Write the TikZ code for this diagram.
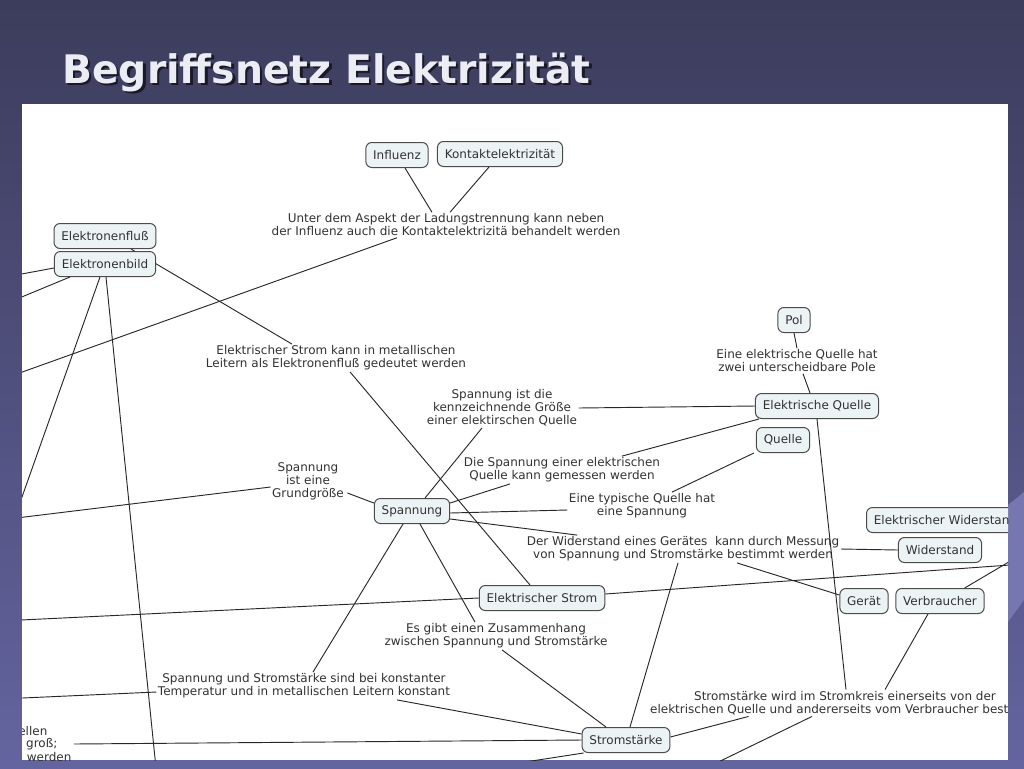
\documentclass[tikz,border=0pt]{standalone}
\usepackage{fontspec}
\setmainfont{DejaVu Sans}
\usetikzlibrary{calc}

\definecolor{slidetop}{RGB}{60,60,92}
\definecolor{slidebot}{RGB}{100,100,160}
\definecolor{slidelight}{RGB}{118,118,176}
\definecolor{conceptfill}{RGB}{236,243,244}
\definecolor{conceptline}{RGB}{75,75,75}
\definecolor{maptext}{RGB}{50,50,50}
\definecolor{linkline}{RGB}{40,40,40}
\definecolor{titletext}{RGB}{236,236,244}
\definecolor{titleshade}{RGB}{25,25,40}
\newcommand{\mapfont}{\fontsize{9}{9.75}\selectfont}
\newcommand{\titlesize}{\fontsize{29.5}{34}\selectfont}

\begin{document}
\begin{tikzpicture}[x=0.75pt,y=0.75pt,yscale=-1,xscale=1,
    concept/.style={draw=conceptline,fill=conceptfill,rounded corners=4.5pt,line width=0.75pt,inner xsep=5.5pt,minimum height=18.75pt,text=maptext,font=\mapfont},
    linkphrase/.style={align=center,inner sep=1pt,text=maptext,font=\mapfont},
    link/.style={draw=linkline,line width=0.7pt}]
	%uncomment if require: \path (0,768); %slide of 1024 x 768
	\useasboundingbox (0,0) rectangle (1024,768);
	
	%Shape: Slide background
	\shade[top color=slidetop,bottom color=slidebot] (0,0) rectangle (1024,768);
	\fill[slidelight] (1008,505) -- (1024,492) -- (1024,600) -- (1008,622) -- cycle;
	%Shape: White panel
	\fill[white] (22,104) rectangle (1008,760);
	
	% Text Node (title)
	\node[anchor=base west,inner sep=0pt,font=\titlesize\bfseries,text=titleshade] (titleshadow) at (64.5,85.5) {Begriffsnetz Elektrizität};
	\node[anchor=base west,inner sep=0pt,font=\titlesize\bfseries,text=titletext] (title) at (62,83) {Begriffsnetz Elektrizität};
	
	\begin{scope}
	\clip (22,104) rectangle (1008,760);
	
	%Free ends outside the panel
	\coordinate (offA) at (0,380);
	\coordinate (offB) at (0,278);
	\coordinate (offC) at (0,306);
	\coordinate (offD) at (0,559);
	\coordinate (offE) at (156,768);
	\coordinate (offF) at (0,520);
	\coordinate (offG) at (0,621);
	\coordinate (offH) at (1024,564);
	\coordinate (offI) at (1024,553);
	\coordinate (offJ) at (706,768);
	\coordinate (offK) at (486,768);
	\coordinate (offL) at (0,699);
	
	% Concept Nodes
	\node[concept] (influenz) at (397,155) {Influenz};
	\node[concept] (kontakt) at (500,154) {Kontaktelektrizität};
	\node[concept] (fluss) at (105,236) {Elektronenfluß};
	\node[concept] (pol) at (794,320) {Pol};
	\node[concept] (equelle) at (817,406) {Elektrische Quelle};
	\node[concept] (quelle) at (783,440) {Quelle};
	\node[concept] (spannung) at (412,511) {Spannung};
	\node[concept,anchor=west] (ewid) at (866,520) {Elektrischer Widerstand};
	\node[concept] (widerstand) at (940,550) {Widerstand};
	\node[concept] (geraet) at (864,601) {Gerät};
	\node[concept] (verbraucher) at (940,601) {Verbraucher};
	\node[concept] (estrom) at (542,598) {Elektrischer Strom};
	\node[concept] (staerke) at (626,740) {Stromstärke};
	
	% Text Nodes (link phrases)
	\node[linkphrase] (aspekt) at (446,225) {Unter dem Aspekt der Ladungstrennung kann neben\\der Influenz auch die Kontaktelektrizitä behandelt werden};
	\node[linkphrase] (deutung) at (336,358) {Elektrischer Strom kann in metallischen\\Leitern als Elektronenfluß gedeutet werden};
	\node[linkphrase] (kenn) at (502,408) {Spannung ist die\\kennzeichnende Größe\\einer elektirschen Quelle};
	\node[linkphrase] (pole) at (797,361) {Eine elektrische Quelle hat\\zwei unterscheidbare Pole};
	\node[linkphrase] (messen) at (562,470) {Die Spannung einer elektrischen\\Quelle kann gemessen werden};
	\node[linkphrase] (grund) at (308,481) {Spannung\\ist eine\\Grundgröße};
	\node[linkphrase] (typisch) at (642,506) {Eine typische Quelle hat\\eine Spannung};
	\node[linkphrase] (messung) at (683,549) {Der Widerstand eines Gerätes\ \ kann durch Messung\\von Spannung und Stromstärke bestimmt werden};
	\node[linkphrase] (zusammen) at (496,636) {Es gibt einen Zusammenhang\\zwischen Spannung und Stromstärke};
	\node[linkphrase] (konstant) at (304,686) {Spannung und Stromstärke sind bei konstanter\\Temperatur und in metallischen Leitern konstant};
	\node[linkphrase] (kreis) at (845,703) {Stromstärke wird im Stromkreis einerseits von der\\elektrischen Quelle und andererseits vom Verbraucher bestimmt};
	\node[linkphrase,anchor=east] (cutA) at (49,731) {ellen};
	\node[linkphrase,anchor=east] (cutB) at (59,744) {groß;};
	\node[linkphrase,anchor=east] (cutC) at (73,757) {werden};
	
	%Straight Lines (behind Elektronenbild)
	\draw[link] ($(fluss.south)+(26,0)$) -- ($(deutung.north)+(-44,0)$);
	\node[concept] (bild) at (105,264) {Elektronenbild};
	
	%Straight Lines
	\draw[link] ($(influenz.south)+(8,0)$) -- ($(aspekt.north)+(-14,0)$);
	\draw[link] ($(kontakt.south)+(-11,0)$) -- ($(aspekt.north)+(4,0)$);
	\draw[link] ($(aspekt.south)+(-49,0)$) -- (offA);
	\draw[link] ($(bild.west)+(0,4)$) -- (offB);
	\draw[link] ($(bild.south west)+(16,0)$) -- (offC);
	\draw[link] ($(bild.south)+(-5,0)$) -- (offD);
	\draw[link] ($(bild.south)+(1,0)$) -- (offE);
	\draw[link] ($(deutung.south)+(14,0)$) -- ($(estrom.north)+(-12,0)$);
	\draw[link] (kenn.east) -- (equelle.west);
	\draw[link] ($(kenn.south)+(-20,0)$) -- ($(spannung.north)+(13,0)$);
	\draw[link] ($(equelle.south west)+(4,0)$) -- ($(messen.north)+(60,0)$);
	\draw[link] ($(messen.south)+(-52,0)$) -- ($(spannung.east)+(0,-8)$);
	\draw[link] ($(quelle.south west)+(-2,0)$) -- ($(typisch.north)+(30,0)$);
	\draw[link] ($(spannung.east)+(0,2)$) -- ($(typisch.west)+(0,4)$);
	\draw[link] ($(spannung.east)+(0,8)$) -- ($(messung.north west)+(52,0)$);
	\draw[link] ($(grund.east)+(2,12)$) -- ($(spannung.west)+(0,-8)$);
	\draw[link] ($(grund.west)+(0,6)$) -- (offF);
	\draw[link] ($(spannung.south)+(-9,0)$) -- ($(konstant.north)+(9,0)$);
	\draw[link] ($(spannung.south)+(8,0)$) -- ($(zusammen.north)+(-21,0)$);
	\draw[link] (estrom.west) -- (offG);
	\draw[link] ($(estrom.east)+(0,-4)$) -- (offH);
	\draw[link] ($(zusammen.south)+(6,0)$) -- ($(staerke.north)+(-20,0)$);
	\draw[link] ($(messung.south)+(-5,0)$) -- ($(staerke.north)+(4,0)$);
	\draw[link] ($(messung.south)+(54,0)$) -- ($(geraet.west)+(0,-6)$);
	\draw[link] (messung.east) -- (widerstand.west);
	\draw[link] (equelle.south) -- ($(kreis.north)+(1,0)$);
	\draw[link] ($(verbraucher.south)+(-12,0)$) -- ($(kreis.north)+(40,0)$);
	\draw[link] ($(verbraucher.north east)+(-20,0)$) -- (offI);
	\draw[link] ($(staerke.east)+(0,-3)$) -- ($(kreis.south west)+(100,0)$);
	\draw[link] ($(kreis.south)+(-33,0)$) -- (offJ);
	\draw[link] ($(staerke.west)+(0,-6)$) -- ($(konstant.south)+(93,0)$);
	\draw[link] (staerke.west) -- ($(cutB.east)+(15,0)$);
	\draw[link] ($(staerke.south west)+(2,0)$) -- (offK);
	\draw[link] (offL) -- ($(konstant.west)+(0,6)$);
	\draw[link] (pol.south) -- (pole.north);
	\draw[link] ($(pole.south)+(6,0)$) -- ($(equelle.north)+(-7,0)$);
	\end{scope}
\end{tikzpicture}
\end{document}
